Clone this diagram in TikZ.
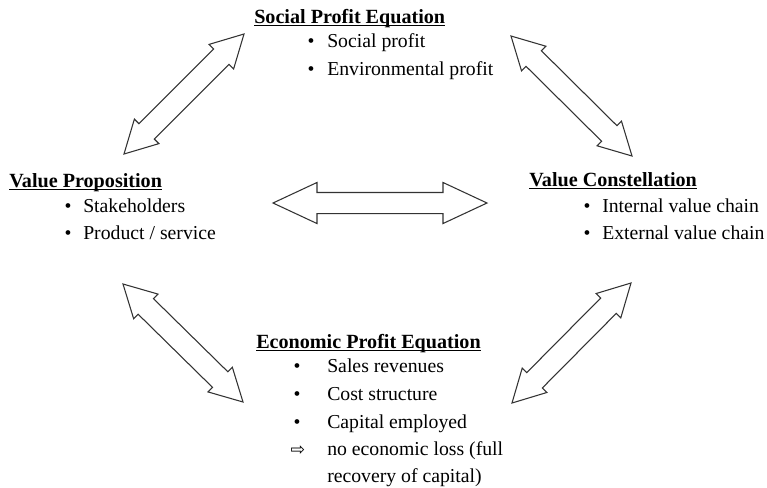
\documentclass[tikz,border=0pt]{standalone}
\usepackage{fontspec}
\setmainfont{Liberation Serif}
\newfontfamily\symfont{DejaVu Sans}
\usetikzlibrary{calc}
\newcommand\hdrtext[1]{\setbox0\hbox{\bfseries #1}\rlap{\rule[-2.4pt]{\wd0}{1.1pt}}\box0}
\newcommand\dblarr[5]{%
\draw[blockarr] (#1) -- ($(#1)!#5!(#2)!#3!90:(#2)$) -- ($(#1)!#5!(#2)!#4!90:(#2)$)
 -- ($(#2)!#5!(#1)!#4!-90:(#1)$) -- ($(#2)!#5!(#1)!#3!-90:(#1)$) -- (#2)
 -- ($(#2)!#5!(#1)!#3!90:(#1)$) -- ($(#2)!#5!(#1)!#4!90:(#1)$)
 -- ($(#1)!#5!(#2)!#4!-90:(#2)$) -- ($(#1)!#5!(#2)!#3!-90:(#2)$) -- cycle;}
\begin{document}
\begin{tikzpicture}[x=0.75pt,y=-0.75pt,
  txt/.style={anchor=base west,inner sep=0pt,font=\fontsize{14.8}{18}\selectfont},
  hdr/.style={anchor=base west,inner sep=0pt,font=\fontsize{15.1}{18}\selectfont},
  bul/.style={anchor=base,inner sep=0pt,font=\fontsize{14.8}{18}\selectfont},
  impl/.style={anchor=base,inner sep=0pt,font=\symfont\fontsize{13}{15}\selectfont},
  blockarr/.style={draw=black!80,line width=0.8pt,line join=miter,fill=white}]
\useasboundingbox (0,0) rectangle (767,487);
% Social profit equation
\node[hdr] (spe) at (254,23) {\hdrtext{Social Profit Equation}};
\node[bul] (speb1) at (311,47) {\textbullet};
\node[txt] (spe1) at (327,47) {Social profit};
\node[bul] (speb2) at (311,75) {\textbullet};
\node[txt] (spe2) at (327,75) {Environmental profit};
% Value proposition
\node[hdr] (vp) at (9,187) {\hdrtext{Value Proposition}};
\node[bul] (vpb1) at (68,212) {\textbullet};
\node[txt] (vp1) at (83,212) {Stakeholders};
\node[bul] (vpb2) at (68,239) {\textbullet};
\node[txt] (vp2) at (83,239) {Product / service};
% Value constellation
\node[hdr] (vc) at (529,186) {\hdrtext{Value Constellation}};
\node[bul] (vcb1) at (587,212) {\textbullet};
\node[txt] (vc1) at (602,212) {Internal value chain};
\node[bul] (vcb2) at (587,239) {\textbullet};
\node[txt] (vc2) at (602,239) {External value chain};
% Economic profit equation
\node[hdr] (epe) at (256,348) {\hdrtext{Economic Profit Equation}};
\node[bul] (epeb1) at (297,372) {\textbullet};
\node[txt] (epe1) at (327,372) {Sales revenues};
\node[bul] (epeb2) at (297,400) {\textbullet};
\node[txt] (epe2) at (327,400) {Cost structure};
\node[bul] (epeb3) at (297,428) {\textbullet};
\node[txt] (epe3) at (327,428) {Capital employed};
\node[impl] (epeb4) at (298,455) {⇨};
\node[txt] (epe4) at (327,455) {no economic loss (full};
\node[txt] (epe5) at (327,482) {recovery of capital)};
% arrow end points
\coordinate (tlA) at (124,154);
\coordinate (tlB) at (244,34);
\coordinate (trA) at (511,36);
\coordinate (trB) at (632,156);
\coordinate (blA) at (123,284);
\coordinate (blB) at (243,402);
\coordinate (brA) at (631,283);
\coordinate (brB) at (512,403);
\coordinate (hA) at (273,203);
\coordinate (hB) at (487,203);
\dblarr{tlA}{tlB}{13pt}{8.2pt}{24pt}
\dblarr{trA}{trB}{13pt}{8.2pt}{24pt}
\dblarr{blA}{blB}{13pt}{8.2pt}{24pt}
\dblarr{brA}{brB}{13pt}{8.2pt}{24pt}
\dblarr{hA}{hB}{15.4pt}{7.9pt}{33pt}
\end{tikzpicture}
\end{document}
